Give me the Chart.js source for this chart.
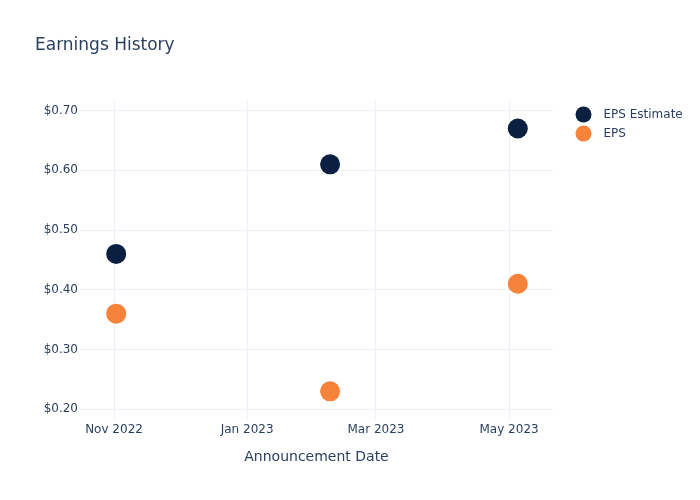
<!DOCTYPE html>
<html>
<head>
<meta charset="utf-8">
<script src="https://cdn.jsdelivr.net/npm/chart.js@4/dist/chart.umd.min.js"></script>
<style>
  html, body { margin: 0; padding: 0; background: #fff; }
  canvas { display: block; }
</style>
</head>
<body>
<canvas id="c" width="700" height="500"></canvas>
<script>
// ---- data ----
const announcementDates = ['2022-11-02', '2023-02-08', '2023-05-05'];
const epsEstimate = [0.46, 0.61, 0.67];
const epsActual = [0.36, 0.23, 0.41];
const seriesNames = ['EPS Estimate', 'EPS'];
const xTickDates = ['2022-11-01', '2023-01-01', '2023-03-01', '2023-05-01'];
const xTickLabels = ['Nov 2022', 'Jan 2023', 'Mar 2023', 'May 2023'];
const yTickValues = [0.2, 0.3, 0.4, 0.5, 0.6, 0.7];
const xRange = ['2022-10-16T10:00:00Z', '2023-05-21T03:00:00Z'];
const yRange = [0.182, 0.717];

const FONT = '"DejaVu Sans", sans-serif';
const TEXT = '#2a3f5f';
const GRID = '#ebf0f8';
const NAVY = '#0b1f41';
const ORANGE = '#f7823a';

const toMs = s => Date.parse(s.length === 10 ? s + 'T00:00:00Z' : s);

const legendPlugin = {
  id: 'sideLegend',
  afterDraw(chart) {
    const ctx = chart.ctx;
    ctx.save();
    ctx.font = '12px ' + FONT;
    ctx.textBaseline = 'middle';
    ctx.textAlign = 'left';
    chart.data.datasets.forEach((ds, i) => {
      const cy = 114.5 + i * 19;
      ctx.beginPath();
      ctx.arc(583.5, cy, 8, 0, Math.PI * 2);
      ctx.fillStyle = ds.backgroundColor;
      ctx.fill();
      ctx.fillStyle = TEXT;
      ctx.fillText(ds.label, 603.5, cy + 0.5);
    });
    ctx.restore();
  }
};

new Chart(document.getElementById('c'), {
  type: 'scatter',
  data: {
    datasets: [
      {
        label: seriesNames[0],
        data: announcementDates.map((d, i) => ({x: toMs(d), y: epsEstimate[i]})),
        backgroundColor: NAVY, borderColor: NAVY,
        pointRadius: 10, pointHoverRadius: 10, borderWidth: 0
      },
      {
        label: seriesNames[1],
        data: announcementDates.map((d, i) => ({x: toMs(d), y: epsActual[i]})),
        backgroundColor: ORANGE, borderColor: ORANGE,
        pointRadius: 10, pointHoverRadius: 10, borderWidth: 0
      }
    ]
  },
  options: {
    responsive: false,
    animation: false,
    layout: { padding: { left: 35, right: 147, top: 0, bottom: 0 } },
    plugins: {
      legend: { display: false },
      tooltip: { enabled: false },
      title: {
        display: true,
        text: 'Earnings History',
        align: 'start',
        color: TEXT,
        font: { family: FONT, size: 17, weight: 'normal', lineHeight: 1.2 },
        padding: { top: 35, bottom: 45 }
      }
    },
    scales: {
      x: {
        type: 'linear',
        min: toMs(xRange[0]),
        max: toMs(xRange[1]),
        afterBuildTicks: s => { s.ticks = xTickDates.map(d => ({ value: toMs(d) })); },
        afterFit: s => { s.height = 80; },
        grid: { color: GRID, lineWidth: 1, drawTicks: false },
        border: { display: false },
        ticks: {
          color: TEXT, padding: 3, maxRotation: 0, autoSkip: false,
          font: { family: FONT, size: 12 },
          callback: (v, i) => xTickLabels[i]
        },
        title: {
          display: true, text: 'Announcement Date', color: TEXT,
          font: { family: FONT, size: 14 },
          padding: { top: 0, bottom: 34 }
        }
      },
      y: {
        min: yRange[0],
        max: yRange[1],
        afterBuildTicks: s => { s.ticks = yTickValues.map(v => ({ value: v })); },
        afterFit: s => { s.width = 45; },
        grid: { color: GRID, lineWidth: 1, drawTicks: false },
        border: { display: false },
        ticks: {
          color: TEXT, padding: 2,
          font: { family: FONT, size: 12 },
          callback: v => '$' + Number(v).toFixed(2)
        }
      }
    }
  },
  plugins: [legendPlugin]
});
</script>
</body>
</html>
